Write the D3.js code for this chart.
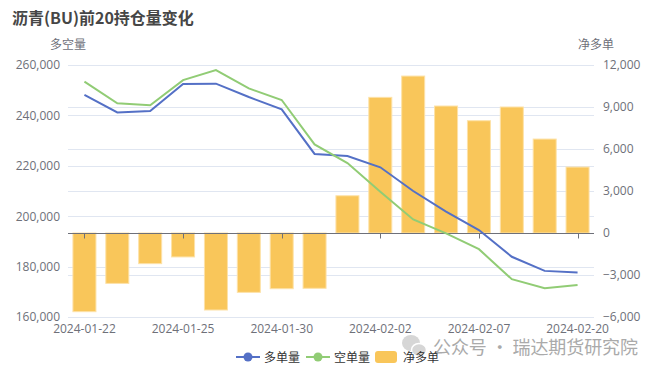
<!DOCTYPE html>
<html>
<head>
<meta charset="utf-8">
<script src="https://cdn.jsdelivr.net/npm/d3@7"></script>
<style>
  body { margin: 0; background: #fff; }
  svg { display: block; font-family: "Noto Sans CJK SC", "Microsoft YaHei", sans-serif; }
</style>
</head>
<body>
<svg id="chart" width="661" height="374"></svg>
<script>
// 沥青 前20 持仓
var dates = ['2024-01-22','2024-01-23','2024-01-24','2024-01-25','2024-01-26','2024-01-29',
             '2024-01-30','2024-01-31','2024-02-01','2024-02-02','2024-02-05','2024-02-06',
             '2024-02-07','2024-02-08','2024-02-19','2024-02-20'];
var longVol = [248100, 241200, 241700, 252500, 252600, 247300, 242400, 224700,
               223900, 219400, 210000, 201800, 194500, 183900, 178300, 177700];
var shortVol = [253400, 244800, 244000, 254000, 258000, 250700, 246100, 228500,
                221100, 209700, 198700, 193200, 186900, 175000, 171400, 172700];
var netLong = [-5620, -3600, -2190, -1710, -5500, -4240, -3980, -3950,
               2660, 9690, 11210, 9070, 8020, 9000, 6710, 4710];
var leftTicks = [160000, 180000, 200000, 220000, 240000, 260000];
var rightTicks = [-6000, -3000, 0, 3000, 6000, 9000, 12000];

var svg = d3.select('#chart');
var pLeft = 68, pRight = 594, pTop = 65, pBottom = 317;
var fmt = d3.format(',');

var x = d3.scaleBand().domain(dates).range([pLeft, pRight]);
var yL = d3.scaleLinear().domain([160000, 260000]).range([pBottom, pTop]);
var yR = d3.scaleLinear().domain([-6000, 12000]).range([pBottom, pTop]);

// title
svg.append('text').attr('x', 12).attr('y', 24)
    .attr('font-size', 16).attr('font-weight', 'bold').attr('fill', '#464646')
    .text('沥青(BU)前20持仓量变化');

// grid
svg.append('g').selectAll('line').data(leftTicks).enter().append('line')
    .attr('x1', pLeft).attr('x2', pRight)
    .attr('y1', function(d){ return Math.round(yL(d)) + 0.5; })
    .attr('y2', function(d){ return Math.round(yL(d)) + 0.5; })
    .attr('stroke', '#E0E6F1');
svg.append('g').selectAll('line').data(rightTicks.filter(function(d){ return d !== 0; })).enter().append('line')
    .attr('x1', pLeft).attr('x2', pRight)
    .attr('y1', function(d){ return Math.round(yR(d)) + 0.5; })
    .attr('y2', function(d){ return Math.round(yR(d)) + 0.5; })
    .attr('stroke', '#E0E6F1');

// axes (labels only)
var axL = svg.append('g').attr('transform', 'translate(' + pLeft + ',0)')
    .call(d3.axisLeft(yL).tickValues(leftTicks).tickFormat(fmt).tickSize(0).tickPadding(8));
var axR = svg.append('g').attr('transform', 'translate(' + pRight + ',0)')
    .call(d3.axisRight(yR).tickValues(rightTicks).tickFormat(fmt).tickSize(0).tickPadding(9));
[axL, axR].forEach(function(a){
    a.select('.domain').remove();
    a.selectAll('text').attr('fill', '#6E7079').attr('font-size', 12)
        .attr('font-family', '"Open Sans", "Noto Sans", sans-serif');
});

svg.append('text').attr('x', 68).attr('y', 49).attr('text-anchor', 'middle')
    .attr('font-size', 12).attr('fill', '#6E7079').text('多空量');
svg.append('text').attr('x', 596).attr('y', 49).attr('text-anchor', 'middle')
    .attr('font-size', 12).attr('fill', '#6E7079').text('净多单');

// bars
var bw = x.bandwidth() * 0.7;
svg.append('g').selectAll('rect').data(netLong).enter().append('rect')
    .attr('x', function(d, i){ return x(dates[i]) + (x.bandwidth() - bw) / 2; })
    .attr('width', bw)
    .attr('y', function(d){ return yR(Math.max(0, d)); })
    .attr('height', function(d){ return Math.abs(yR(d) - yR(0)); })
    .attr('fill', '#F9C65A')
    .attr('stroke', '#FDE2A8').attr('stroke-width', 1);

// zero axis
var z = Math.round(yR(0)) + 0.5;
svg.append('line').attr('x1', pLeft).attr('x2', pRight).attr('y1', z).attr('y2', z)
    .attr('stroke', '#6E7079');
var tickIdx = [0, 3, 6, 9, 12, 15];
svg.append('g').selectAll('line').data(tickIdx).enter().append('line')
    .attr('x1', function(i){ return Math.round(x(dates[i]) + x.bandwidth() / 2) + 0.5; })
    .attr('x2', function(i){ return Math.round(x(dates[i]) + x.bandwidth() / 2) + 0.5; })
    .attr('y1', z).attr('y2', z + 5).attr('stroke', '#6E7079');
svg.append('g').selectAll('text').data(tickIdx).enter().append('text')
    .attr('x', function(i){ return x(dates[i]) + x.bandwidth() / 2; })
    .attr('y', 333).attr('text-anchor', 'middle')
    .attr('font-size', 12).attr('fill', '#6E7079')
    .attr('font-family', '"Open Sans", "Noto Sans", sans-serif')
    .text(function(i){ return dates[i]; });

// lines
var cx = function(d, i){ return x(dates[i]) + x.bandwidth() / 2; };
svg.append('path').datum(longVol)
    .attr('d', d3.line().x(cx).y(function(d){ return yL(d); }))
    .attr('fill', 'none').attr('stroke', '#5470C6').attr('stroke-width', 2);
svg.append('path').datum(shortVol)
    .attr('d', d3.line().x(cx).y(function(d){ return yL(d); }))
    .attr('fill', 'none').attr('stroke', '#91CC75').attr('stroke-width', 2);

// watermark
var wm = svg.append('g');
wm.append('ellipse').attr('cx', 411).attr('cy', 343).attr('rx', 9).attr('ry', 8).attr('fill', '#d6d6d6');
wm.append('ellipse').attr('cx', 419).attr('cy', 350).attr('rx', 7.5).attr('ry', 6.5)
    .attr('fill', '#d6d6d6').attr('stroke', '#fff').attr('stroke-width', 1.5);
wm.append('text').attr('x', 433).attr('y', 354).attr('font-size', 18).attr('fill', '#aaa')
    .attr('textLength', 205).attr('lengthAdjust', 'spacing')
    .text('公众号 · 瑞达期货研究院');

// legend
var lg = svg.append('g').attr('transform', 'translate(0,357)');
var items = [
    {name: '多单量', color: '#5470C6', type: 'line', x: 236},
    {name: '空单量', color: '#91CC75', type: 'line', x: 306},
    {name: '净多单', color: '#F9C65A', type: 'rect', x: 375}
];
items.forEach(function(it){
    if(it.type === 'line')
    {
        lg.append('line').attr('x1', it.x).attr('x2', it.x + 24).attr('y1', 0).attr('y2', 0)
            .attr('stroke', it.color).attr('stroke-width', 2);
        lg.append('circle').attr('cx', it.x + 12).attr('cy', 0).attr('r', 4.5)
            .attr('fill', it.color);
    }
    else
    {
        lg.append('rect').attr('x', it.x).attr('y', -6).attr('width', 22).attr('height', 12)
            .attr('rx', 3).attr('fill', it.color);
    }
    lg.append('text').attr('x', it.x + 28).attr('y', 4.5)
        .attr('font-size', 12).attr('fill', '#333').text(it.name);
});
</script>
</body>
</html>
